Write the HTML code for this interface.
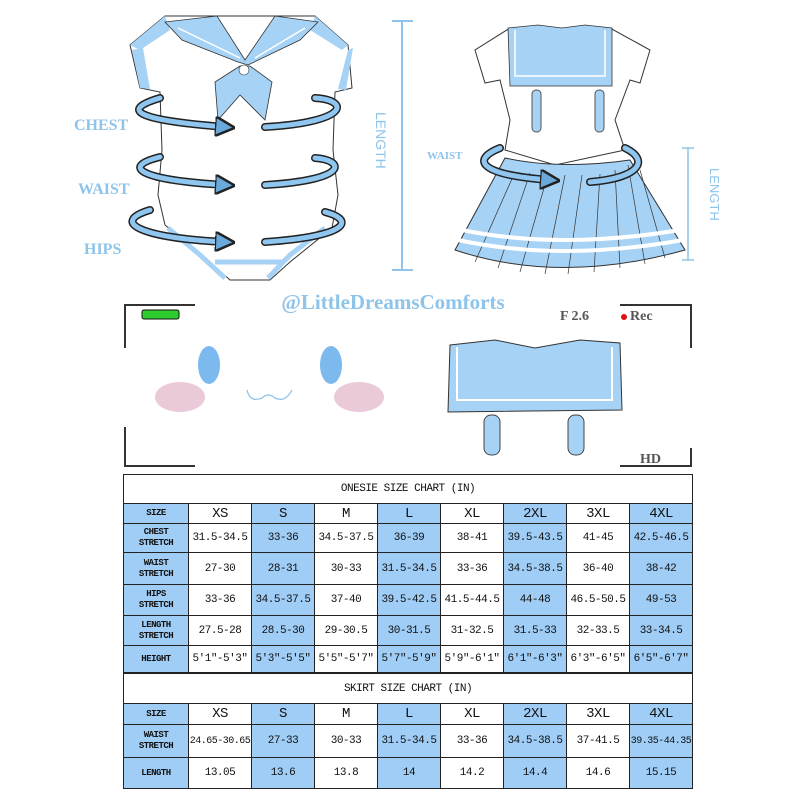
<!DOCTYPE html>
<html><head><meta charset="utf-8"><style>
body{margin:0;background:#fff;width:800px;height:800px;overflow:hidden;position:relative;font-family:"Liberation Serif",serif}
svg{position:absolute;left:0;top:0}
table{position:absolute;border-collapse:collapse;table-layout:fixed;font-family:"Liberation Mono","Noto Sans CJK SC",monospace;color:#111}
td{border:1.5px solid #222;text-align:center;padding:0;font-size:11px;letter-spacing:-0.5px}
td.b{background:#9fcdf5}
td.h{font-size:9px;line-height:11px;font-weight:bold}
tr.sz td{font-size:14px}
tr.sz td.h{font-size:9px}
td.t{font-size:11px;background:#fff}
</style></head><body>
<svg width="800" height="800" viewBox="0 0 800 800">
<defs><marker id="ah" markerWidth="4" markerHeight="4" refX="2" refY="2" orient="auto"><path d="M0,0L4,2L0,4z" fill="#6aa9dc" stroke="#222" stroke-width="0.5"/></marker></defs>
<g stroke="#333" stroke-width="1" fill="#fff">
<path d="M165,16 L130,45 L140,88 L160,92 L162,150 L158,195 L165,225 L210,262 L230,280 L270,280 L290,262 L332,228 L338,195 L333,150 L335,92 L352,88 L348,45 L315,16 Z"/>
</g>
<path d="M130,45 L165,16 L170,30 L140,50Z" fill="#a6d2f5"/>
<path d="M348,45 L315,16 L310,30 L342,50Z" fill="#a6d2f5"/>
<path d="M132,50 L140,88 L150,89 L143,48Z" fill="#a6d2f5"/>
<path d="M348,50 L338,89 L346,90 L353,48Z" fill="#a6d2f5"/>
<path d="M165,22 L217,16 L245,60 L275,16 L318,22 L300,40 L248,65 L238,62 L182,40 Z" fill="#a6d2f5" stroke="#333" stroke-width="0.8"/>
<path d="M178,28 L240,58" stroke="#fff" stroke-width="1.5"/><path d="M305,28 L255,58" stroke="#fff" stroke-width="1.5"/>
<path d="M240,66 L215,82 L218,120 L240,95 L265,120 L272,82 L250,66Z" fill="#a6d2f5" stroke="#333" stroke-width="0.8"/>
<circle cx="244" cy="70" r="5" fill="#fff" stroke="#333" stroke-width="0.6"/>
<path d="M168,228 L200,255 L225,278 M325,228 L290,255 L268,278" stroke="#a6d2f5" stroke-width="5" fill="none"/>
<path d="M215,262 L282,262" stroke="#a6d2f5" stroke-width="5"/>
<g fill="none" stroke-linecap="round">
<g stroke="#222" stroke-width="8">
<path d="M160,98 C120,110 135,120 225,127"/><path d="M265,127 C350,122 350,100 315,98"/>
<path d="M160,157 C120,167 140,180 225,185"/><path d="M265,185 C350,180 345,160 315,158"/>
<path d="M150,210 C110,222 140,238 225,242"/><path d="M265,242 C350,236 355,220 325,212"/>
</g>
<g stroke="#8ec6f0" stroke-width="5">
<path d="M160,98 C120,110 135,120 225,127" marker-end="url(#ah)"/><path d="M265,127 C350,122 350,100 315,98"/>
<path d="M160,157 C120,167 140,180 225,185" marker-end="url(#ah)"/><path d="M265,185 C350,180 345,160 315,158"/>
<path d="M150,210 C110,222 140,238 225,242" marker-end="url(#ah)"/><path d="M265,242 C350,236 355,220 325,212"/>
</g></g>
<g fill="#8ec3ea" font-weight="bold" font-size="16">
<text x="74" y="130">CHEST</text><text x="78" y="194">WAIST</text><text x="84" y="254">HIPS</text></g>
<path d="M392,21H413M402,21V270M392,270H413" stroke="#8ec3ea" stroke-width="2" fill="none"/>
<text x="0" y="0" transform="translate(376,112) rotate(90)" fill="#8ec3ea" font-family="Liberation Sans" font-size="14">LENGTH</text>
<path d="M510,28 L475,50 L485,83 L500,80 L510,120 L505,150 L555,165 L625,150 L615,120 L630,80 L640,83 L650,50 L610,28Z" fill="#fff" stroke="#333"/>
<path d="M508,28 L538,25 L562,28 L585,25 L612,28 L612,86 L510,86Z" fill="#a6d2f5" stroke="#333" stroke-width="0.8"/>
<path d="M515,30V76H605V30" stroke="#fff" stroke-width="1.5" fill="none"/>
<rect x="532" y="90" width="9" height="42" rx="4" fill="#a6d2f5" stroke="#555"/>
<rect x="595" y="90" width="9" height="42" rx="4" fill="#a6d2f5" stroke="#555"/>
<path d="M505,158 Q560,170 630,160 L685,250 Q560,285 455,250Z" fill="#a6d2f5" stroke="#333"/>
<g stroke="#333" stroke-width="0.7"><path d="M515,172L475,262M530,173L498,268M548,174L520,272M565,175L545,274M582,175L568,274M600,174L594,272M615,170L620,268M628,165L645,264M640,170L665,258"/></g>
<path d="M462,230Q560,250 680,230M458,240Q560,262 683,240" stroke="#fff" stroke-width="4" fill="none"/>
<g fill="none" stroke-linecap="round"><path d="M500,148 C470,160 480,175 550,180" stroke="#222" stroke-width="8"/><path d="M590,182 C640,178 650,160 625,148" stroke="#222" stroke-width="8"/>
<path d="M500,148 C470,160 480,175 550,180" stroke="#8ec6f0" stroke-width="5" marker-end="url(#ah)"/><path d="M590,182 C640,178 650,160 625,148" stroke="#8ec6f0" stroke-width="5"/></g>
<text x="427" y="159" fill="#8ec3ea" font-weight="bold" font-size="11">WAIST</text>
<path d="M682,148H694M688,148V260M682,260H694" stroke="#8ec3ea" stroke-width="1.5" fill="none"/>
<text transform="translate(710,168) rotate(90)" fill="#8ec3ea" font-family="Liberation Sans" font-size="13">LENGTH</text>
<text x="393" y="309" text-anchor="middle" fill="#8ec3ea" font-weight="bold" font-size="21">@LittleDreamsComforts</text>
<path d="M195,305H125V348M125,427V466H195M620,305H691V348M691,448V466H620" stroke="#333" stroke-width="2" fill="none"/>
<rect x="142" y="310" width="37" height="9" rx="2" fill="#2ecc2e" stroke="#111"/>
<text x="560" y="320" fill="#555" font-weight="bold" font-size="14">F 2.6</text>
<circle cx="624" cy="317" r="3" fill="#e01010"/>
<text x="630" y="320" fill="#555" font-weight="bold" font-size="14">Rec</text>
<text x="640" y="463" fill="#555" font-weight="bold" font-size="14">HD</text>
<ellipse cx="209" cy="365" rx="11" ry="19" fill="#7bb9ee"/><ellipse cx="331" cy="365" rx="11" ry="19" fill="#7bb9ee"/>
<ellipse cx="180" cy="397" rx="25" ry="15" fill="#eac9d8"/><ellipse cx="359" cy="397" rx="25" ry="15" fill="#eac9d8"/>
<path d="M247,390 Q250,403 262,398 Q268,392 275,398 Q285,403 292,390" stroke="#8ec3ea" stroke-width="1.3" fill="none"/>
<path d="M450,345 L495,340 L535,348 L580,340 L620,343 L622,410 L448,412Z" fill="#a6d2f5" stroke="#333"/>
<path d="M457,347V400H612V347" stroke="#fff" stroke-width="2" fill="none"/>
<rect x="484" y="415" width="16" height="40" rx="7" fill="#a6d2f5" stroke="#444"/>
<rect x="568" y="415" width="16" height="40" rx="7" fill="#a6d2f5" stroke="#444"/>
</svg>
<table style="left:123px;top:474px;width:569px">
<colgroup><col style="width:65px"><col span="8" style="width:63px"></colgroup>
<tr style="height:29px"><td class="t" colspan="9">ONESIE SIZE CHART (IN)</td></tr>
<tr class="sz" style="height:20px"><td class="b h">SIZE</td><td>XS</td><td class="b">S</td><td>M</td><td class="b">L</td><td>XL</td><td class="b">2XL</td><td>3XL</td><td class="b">4XL</td></tr>
<tr style="height:29px"><td class="b h">CHEST<br>STRETCH</td><td>31.5-34.5</td><td class="b">33-36</td><td>34.5-37.5</td><td class="b">36-39</td><td>38-41</td><td class="b">39.5-43.5</td><td>41-45</td><td class="b">42.5-46.5</td></tr>
<tr style="height:32px"><td class="b h">WAIST<br>STRETCH</td><td>27-30</td><td class="b">28-31</td><td>30-33</td><td class="b">31.5-34.5</td><td>33-36</td><td class="b">34.5-38.5</td><td>36-40</td><td class="b">38-42</td></tr>
<tr style="height:31px"><td class="b h">HIPS<br>STRETCH</td><td>33-36</td><td class="b">34.5-37.5</td><td>37-40</td><td class="b">39.5-42.5</td><td>41.5-44.5</td><td class="b">44-48</td><td>46.5-50.5</td><td class="b">49-53</td></tr>
<tr style="height:30px"><td class="b h">LENGTH<br>STRETCH</td><td>27.5-28</td><td class="b">28.5-30</td><td>29-30.5</td><td class="b">30-31.5</td><td>31-32.5</td><td class="b">31.5-33</td><td>32-33.5</td><td class="b">33-34.5</td></tr>
<tr style="height:27px"><td class="b h">HEIGHT</td><td>5'1"-5'3"</td><td class="b">5'3"-5'5"</td><td>5'5"-5'7"</td><td class="b">5'7"-5'9"</td><td>5'9"-6'1"</td><td class="b">6'1"-6'3"</td><td>6'3"-6'5"</td><td class="b">6'5"-6'7"</td></tr>
</table>
<table style="left:123px;top:673px;width:569px">
<colgroup><col style="width:65px"><col span="8" style="width:63px"></colgroup>
<tr style="height:30px"><td class="t" colspan="9">SKIRT SIZE CHART (IN)</td></tr>
<tr class="sz" style="height:21px"><td class="b h">SIZE</td><td>XS</td><td class="b">S</td><td>M</td><td class="b">L</td><td>XL</td><td class="b">2XL</td><td>3XL</td><td class="b">4XL</td></tr>
<tr style="height:33px"><td class="b h">WAIST<br>STRETCH</td><td style="font-size:10px">24.65-30.65</td><td class="b">27-33</td><td>30-33</td><td class="b">31.5-34.5</td><td>33-36</td><td class="b">34.5-38.5</td><td>37-41.5</td><td class="b" style="font-size:10px">39.35-44.35</td></tr>
<tr style="height:31px"><td class="b h">LENGTH</td><td>13.05</td><td class="b">13.6</td><td>13.8</td><td class="b">14</td><td>14.2</td><td class="b">14.4</td><td>14.6</td><td class="b">15.15</td></tr>
</table>
</body></html>
